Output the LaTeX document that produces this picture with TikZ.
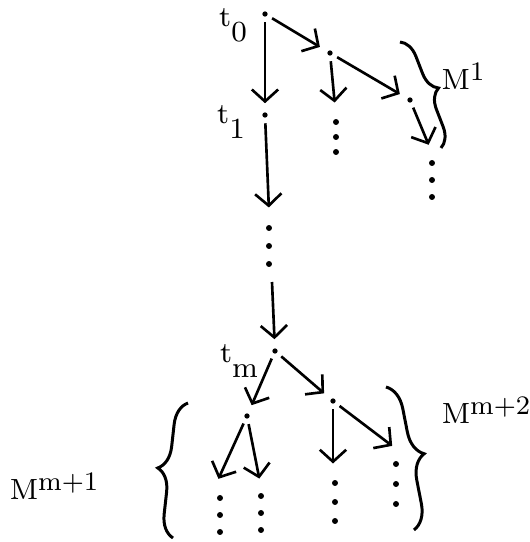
\documentclass[tikz,border=0pt]{standalone}
\usepackage{tikz}
\usetikzlibrary{arrows.meta,decorations.pathreplacing}
\newcommand{\lo}[1]{\raisebox{-1.2ex}{#1}}
\newcommand{\hi}[1]{\raisebox{0.75ex}{\fontsize{7.6}{9}\selectfont#1}}

\begin{document}
\begin{tikzpicture}[x=0.01cm,y=-0.01cm,
  pt/.style={circle,fill,inner sep=0pt,minimum size=1.5pt,outer sep=1.6pt},
  arr/.style={-{Straight Barb[length=3.4pt,width=7.5pt]},line width=0.75pt,shorten >=1pt},
  lbl/.style={font=\fontsize{8.3}{10}\selectfont,inner sep=0pt},
  brc/.style={decorate,decoration={brace,amplitude=#1},line width=0.85pt},
  brc/.default=6pt]
\useasboundingbox (0,0) rectangle (529,542);

% tree nodes
\node[pt] (t0) at (265,14) {};
\node[pt] (t1) at (265,115) {};
\node[pt] (a) at (330,53) {};
\node[pt] (b) at (410,100) {};
\node[pt] (tm) at (275,351) {};
\node[pt] (c) at (247,416) {};
\node[pt] (d) at (333,401) {};

% open ends
\coordinate (a1) at (335,106);
\coordinate (b1) at (430,148);
\coordinate (t1e) at (269,211);
\coordinate (tmi) at (272,282);
\coordinate (c1) at (217,482);
\coordinate (c2) at (260,482);
\coordinate (d1) at (333,467);
\coordinate (d2) at (395,448);

% labels
\node[lbl] (l0) at (233,25) {t\lo{0}};
\node[lbl] (l1) at (231,122) {t\lo{1}};
\node[lbl] (lm) at (239,361) {t\lo{m}};
\node[lbl] (m1) at (463,76) {M\hi{1}};
\node[lbl] (m2) at (486,410) {M\hi{m+2}};
\node[lbl] (m3) at (54,486) {M\hi{m+1}};

% arrows
\draw[arr] (t0) -- (t1);
\draw[arr] (t0) -- (a);
\draw[arr] (a) -- (a1);
\draw[arr] (a) -- (b);
\draw[arr] (b) -- (b1);
\draw[arr] (t1) -- (t1e);
\draw[arr] (tmi) -- (tm);
\draw[arr] (tm) -- (c);
\draw[arr] (tm) -- (d);
\draw[arr] (c) -- (c1);
\draw[arr] (c) -- (c2);
\draw[arr] (d) -- (d1);
\draw[arr] (d) -- (d2);

% vertical dots
\foreach \x/\y/\s in {336/122/15,432/163/17,269/228/18,220/498/17,261/496/17,335/483/19,396/464/20}
  \foreach \k in {0,1,2}
    \fill (\x,\y+\s*\k) circle (0.85pt);

% braces
\draw[brc=5.5pt] (400,42) -- (441,148);
\draw[brc=7pt] (386,387) -- (414,530);
\draw[brc=6.5pt] (173,538) -- (188,403);
\end{tikzpicture}
\end{document}
